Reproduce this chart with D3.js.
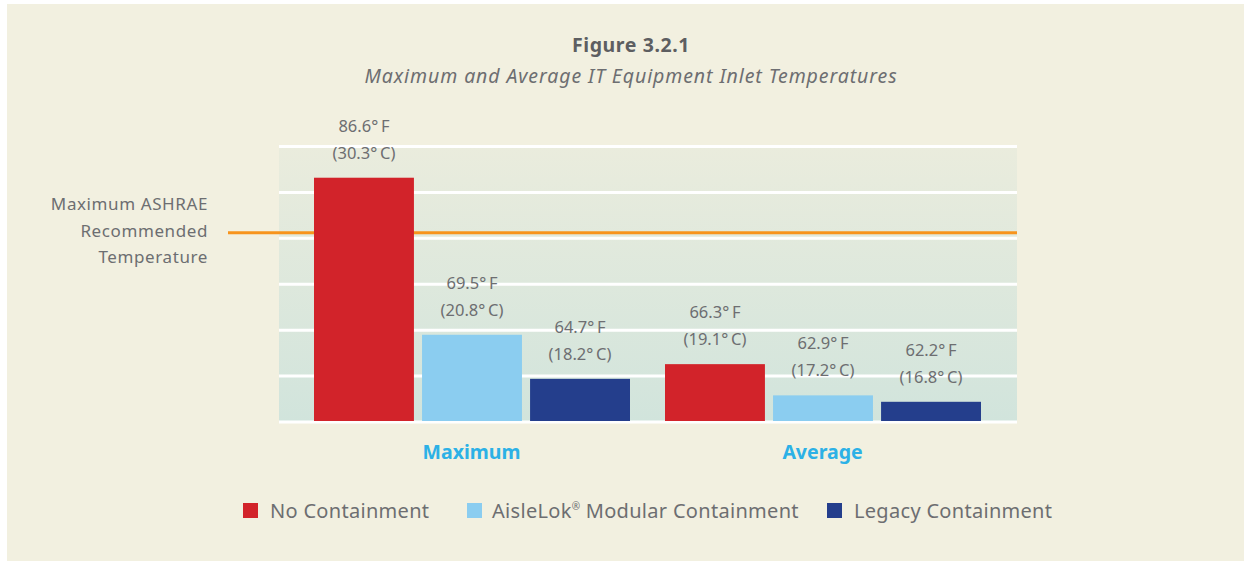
<!DOCTYPE html>
<html>
<head>
<meta charset="utf-8">
<script src="https://d3js.org/d3.v7.min.js"></script>
<style>
  body { margin: 0; background: #ffffff; }
  text { font-family: "Noto Sans", Lato, sans-serif; }
</style>
</head>
<body>
<div id="my_dataviz"></div>
<script>
var width = 1250
var height = 565

// data
var groups = ["Maximum", "Average"]
var series = ["No Containment", "AisleLok® Modular Containment", "Legacy Containment"]
var valuesF = [[86.6, 69.5, 64.7], [66.3, 62.9, 62.2]]
var valuesC = [[30.3, 20.8, 18.2], [19.1, 17.2, 16.8]]
var colors = ["#d2232a", "#8bcdf0", "#243e8c"]
var gridTicks = [60, 65, 70, 75, 80, 85, 90]
var ashraeLimit = 80.6
var ashraeLabel = ["Maximum ASHRAE", "Recommended", "Temperature"]

var svg = d3.select("#my_dataviz")
    .append("svg")
    .attr("width", width)
    .attr("height", height)

// panel background
svg.append("rect")
    .attr("x", 7).attr("y", 4)
    .attr("width", 1237).attr("height", 557)
    .attr("fill", "#f2f0e0")

var defs = svg.append("defs")
var grad = defs.append("linearGradient")
    .attr("id", "plotbg")
    .attr("x1", 0).attr("y1", 0).attr("x2", 0).attr("y2", 1)
grad.append("stop").attr("offset", "0%").attr("stop-color", "#eaecdd")
grad.append("stop").attr("offset", "100%").attr("stop-color", "#d1e4dc")

// scales
var y = d3.scaleLinear()
    .domain([60, 90])
    .range([422, 146.5])

var x0 = d3.scaleBand()
    .domain(groups)
    .range([296, 998])

var x1 = d3.scaleBand()
    .domain(series)
    .range([18, 334])
    .paddingInner(0.075)

var plotLeft = 279, plotRight = 1017

svg.append("rect")
    .attr("x", plotLeft).attr("y", y(90))
    .attr("width", plotRight - plotLeft)
    .attr("height", y(60) - y(90))
    .attr("fill", "url(#plotbg)")

// gridlines
svg.append("g")
    .selectAll("line")
    .data(gridTicks)
    .enter()
    .append("line")
    .attr("x1", plotLeft).attr("x2", plotRight)
    .attr("y1", function (d) { return y(d) })
    .attr("y2", function (d) { return y(d) })
    .attr("stroke", "#ffffff")
    .attr("stroke-width", 3)

// ASHRAE line
svg.append("line")
    .attr("x1", 228).attr("x2", plotRight)
    .attr("y1", y(ashraeLimit)).attr("y2", y(ashraeLimit))
    .attr("stroke", "#f7941d")
    .attr("stroke-width", 3)

svg.append("text")
    .attr("text-anchor", "end")
    .attr("fill", "#6d6e71")
    .style("font-size", "17px")
    .style("letter-spacing", "0.6px")
    .selectAll("tspan")
    .data(ashraeLabel)
    .enter()
    .append("tspan")
    .attr("x", 208)
    .attr("y", function (d, i) { return 210 + i * 26.5 })
    .text(function (d) { return d })

// bars
var rows = []
groups.forEach(function (g, gi) {
    series.forEach(function (s, si) {
        rows.push({ group: g, series: s, f: valuesF[gi][si], c: valuesC[gi][si], color: colors[si] })
    })
})

var bar = svg.append("g")
    .selectAll("g")
    .data(rows)
    .enter()
    .append("g")
    .attr("transform", function (d) { return "translate(" + (x0(d.group) + x1(d.series)) + ",0)" })

bar.append("rect")
    .attr("x", 0)
    .attr("y", function (d) { return y(d.f) })
    .attr("width", x1.bandwidth())
    .attr("height", function (d) { return 421 - y(d.f) })
    .attr("fill", function (d) { return d.color })

bar.append("text")
    .attr("x", x1.bandwidth() / 2)
    .attr("y", function (d) { return y(d.f) - 46 })
    .attr("text-anchor", "middle")
    .attr("fill", "#6d6e71")
    .style("font-size", "16.5px")
    .text(function (d) { return d.f.toFixed(1) + "°\u2009F" })

bar.append("text")
    .attr("x", x1.bandwidth() / 2)
    .attr("y", function (d) { return y(d.f) - 19 })
    .attr("text-anchor", "middle")
    .attr("fill", "#6d6e71")
    .style("font-size", "16.5px")
    .text(function (d) { return "(" + d.c.toFixed(1) + "°\u2009C)" })

// group labels
svg.append("g")
    .selectAll("text")
    .data(groups)
    .enter()
    .append("text")
    .attr("x", function (d) { return x0(d) + x0.bandwidth() / 2 })
    .attr("y", 459)
    .attr("text-anchor", "middle")
    .attr("fill", "#2cb1e6")
    .style("font-size", "19.5px")
    .style("font-weight", "bold")
    .text(function (d) { return d })

// titles
svg.append("text")
    .attr("x", 631).attr("y", 52)
    .attr("text-anchor", "middle")
    .attr("fill", "#5d5e61")
    .style("font-size", "19.5px")
    .style("letter-spacing", "0.6px")
    .style("font-weight", "bold")
    .text("Figure 3.2.1")

svg.append("text")
    .attr("x", 631).attr("y", 83)
    .attr("text-anchor", "middle")
    .attr("fill", "#6d6e71")
    .style("font-size", "19.5px")
    .style("letter-spacing", "0.9px")
    .style("font-style", "italic")
    .text("Maximum and Average IT Equipment Inlet Temperatures")

// legend
var legendX = [243, 467, 827]
var leg = svg.append("g")
    .selectAll("g")
    .data(series)
    .enter()
    .append("g")
    .attr("transform", function (d, i) { return "translate(" + legendX[i] + ",503)" })

leg.append("rect")
    .attr("width", 15).attr("height", 15)
    .attr("fill", function (d, i) { return colors[i] })

var legText = leg.append("text")
    .attr("x", function (d, i) { return i == 1 ? 25 : 27 })
    .attr("y", 15)
    .attr("fill", "#6d6e71")
    .style("font-size", "20px")
    .style("letter-spacing", "0.3px")

legText.each(function (d) {
    var t = d3.select(this)
    if (d.indexOf("®") >= 0) {
        var parts = d.split("®")
        t.append("tspan").text(parts[0])
        t.append("tspan").attr("dy", -8).style("font-size", "10px").text("®")
        t.append("tspan").attr("dy", 8).text(parts[1])
    } else {
        t.text(d)
    }
})
</script>
</body>
</html>
